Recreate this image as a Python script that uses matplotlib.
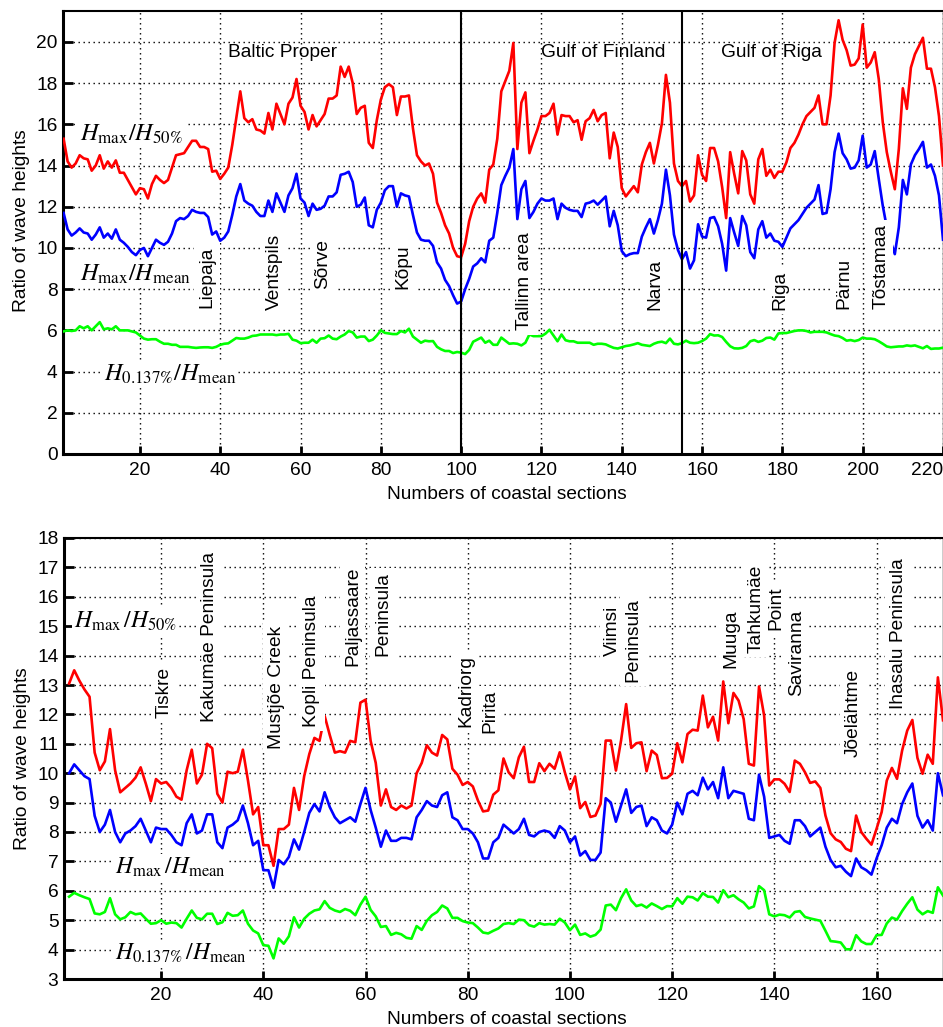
import numpy as np
import matplotlib
matplotlib.use('Agg')
import matplotlib.pyplot as plt

plt.rcParams['font.family'] = ['Liberation Sans', 'DejaVu Sans']
plt.rcParams['mathtext.fontset'] = 'stix'

# Baltic Sea, sections 1-220
baltic_h50 = [
    15.3, 14.2, 13.9, 14.1, 14.5, 14.35, 14.3, 13.75, 14.0, 14.5,
    13.85, 14.2, 13.9, 14.25, 13.65, 13.65, 13.3, 12.95, 12.6, 12.9,
    12.85, 12.4, 13.1, 13.5, 13.3, 13.15, 13.3, 13.9, 14.5, 14.55,
    14.6, 14.9, 15.2, 15.2, 14.9, 14.9, 14.8, 13.7, 13.75, 13.35,
    13.6, 13.9, 15.0, 16.3, 17.6, 16.3, 16.1, 16.25, 15.75, 15.7,
    15.55, 16.55, 15.75, 17.0, 16.5, 16.0, 17.0, 17.3, 18.2, 16.9,
    16.6, 15.75, 16.45, 15.9, 16.2, 16.5, 17.25, 17.25, 17.4, 18.8,
    18.3, 18.8, 18.0, 16.5, 16.8, 16.9, 15.1, 14.85, 16.2, 17.2,
    17.8, 17.95, 17.8, 16.45, 17.35, 17.35, 17.4, 15.8, 14.5, 14.2,
    14.0, 14.1, 13.6, 12.2, 11.7, 11.1, 10.7, 10.0, 9.6, 9.55,
    10.2, 11.3, 12.0, 12.4, 12.65, 12.2, 13.8, 14.05, 15.3, 17.6,
    18.1, 18.6, 19.95, 14.8, 17.05, 17.55, 14.6, 15.2, 15.75, 16.4,
    16.4, 16.55, 17.0, 15.5, 16.45, 16.4, 16.4, 16.1, 16.2, 15.25,
    16.15, 16.3, 16.7, 16.15, 16.45, 16.55, 14.35, 15.6, 14.9, 12.9,
    12.5, 12.75, 13.0, 12.7, 14.05, 14.65, 15.1, 14.1, 15.0, 16.05,
    18.4, 17.05, 14.1, 13.25, 13.0, 13.25, 12.25, 12.55, 14.5, 13.55,
    13.25, 14.85, 14.85, 14.2, 12.95, 11.45, 14.65, 13.6, 12.65, 14.7,
    14.25, 12.6, 12.15, 14.3, 14.8, 13.5, 13.8, 13.4, 13.7, 13.7,
    14.15, 14.85, 15.1, 15.5, 16.0, 16.4, 16.6, 16.8, 17.4, 16.0,
    16.0, 17.4, 19.95, 21.05, 20.1, 19.6, 18.85, 18.9, 19.2, 20.85,
    18.75, 19.0, 19.5, 18.2, 16.1, 14.65, 13.7, 12.85, 14.8, 17.75,
    16.75, 18.75, 19.4, 19.8, 20.2, 18.7, 18.7, 17.8, 16.4, 14.0,
]
baltic_mean = [
    11.7, 10.9, 10.6, 10.75, 10.95, 10.75, 10.7, 10.4, 10.65, 11.0,
    10.5, 10.7, 10.45, 10.9, 10.4, 10.25, 10.05, 9.8, 9.65, 9.9,
    10.0, 9.6, 10.0, 10.4, 10.25, 10.15, 10.3, 10.7, 11.3, 11.45,
    11.4, 11.55, 11.85, 11.75, 11.7, 11.7, 11.5, 10.65, 10.8, 10.35,
    10.5, 10.8, 11.6, 12.5, 13.1, 12.3, 12.15, 12.05, 11.75, 11.55,
    11.55, 12.3, 11.75, 12.65, 12.2, 11.75, 12.55, 12.9, 13.6, 12.4,
    12.2, 11.55, 12.15, 11.85, 11.9, 12.05, 12.5, 12.5, 12.7, 13.55,
    13.6, 13.7, 13.2, 12.0, 12.1, 12.45, 11.1, 11.0, 11.85, 12.2,
    12.8, 13.0, 13.0, 12.0, 12.65, 12.55, 12.5, 11.6, 10.75, 10.4,
    10.35, 10.35, 10.1, 9.3, 9.0, 8.45, 8.15, 7.7, 7.3, 7.4,
    8.0, 8.5, 9.1, 9.25, 9.5, 9.3, 10.35, 10.5, 11.7, 13.05,
    13.5, 13.9, 14.8, 11.4, 12.85, 13.25, 11.45, 11.75, 12.15, 12.4,
    12.3, 12.3, 12.4, 11.4, 12.15, 11.95, 11.85, 11.8, 11.8, 11.5,
    12.15, 12.2, 12.3, 12.1, 12.3, 12.5, 11.05, 11.8, 11.1, 9.85,
    9.6, 9.7, 9.75, 9.75, 10.55, 11.0, 11.4, 10.7, 11.35, 12.15,
    13.8, 12.55, 10.65, 9.9, 9.45, 9.8, 9.0, 9.4, 11.15, 10.55,
    10.5, 11.45, 11.5, 11.05, 10.2, 8.9, 11.45, 10.75, 10.1, 11.55,
    11.1, 9.8, 9.5, 10.9, 11.3, 10.5, 10.7, 10.35, 10.3, 10.05,
    10.5, 10.95, 11.15, 11.35, 11.65, 11.95, 12.15, 12.35, 13.05, 11.65,
    11.7, 12.85, 14.65, 15.55, 14.6, 14.3, 13.85, 13.9, 14.25, 15.45,
    13.9, 14.05, 14.7, 13.35, 12.05, 11.0, 10.3, 9.7, 11.0, 13.3,
    12.6, 14.05, 14.5, 14.8, 15.15, 13.9, 14.05, 13.5, 12.55, 10.4,
]
baltic_h0137 = [
    5.95, 6.0, 5.97, 6.0, 6.2, 6.1, 6.2, 6.0, 6.2, 6.4,
    6.05, 6.1, 6.05, 6.2, 6.0, 6.0, 6.0, 5.95, 5.9, 5.75,
    5.6, 5.55, 5.57, 5.57, 5.45, 5.35, 5.35, 5.3, 5.3, 5.2,
    5.2, 5.2, 5.17, 5.15, 5.17, 5.18, 5.18, 5.15, 5.2, 5.3,
    5.35, 5.37, 5.5, 5.63, 5.6, 5.6, 5.65, 5.73, 5.75, 5.8,
    5.8, 5.8, 5.8, 5.77, 5.8, 5.8, 5.83, 5.55, 5.5, 5.38,
    5.4, 5.4, 5.55, 5.4, 5.6, 5.62, 5.75, 5.6, 5.57, 5.7,
    5.8, 5.97, 5.9, 5.65, 5.7, 5.7, 5.48, 5.55, 5.75, 6.0,
    5.88, 5.85, 5.82, 5.82, 5.97, 5.9, 6.08, 5.7, 5.55, 5.4,
    5.5, 5.47, 5.48, 5.2, 5.08, 5.0, 5.0, 4.9, 4.95, 4.92,
    4.85, 5.05, 5.45, 5.55, 5.65, 5.4, 5.5, 5.3, 5.3, 5.65,
    5.5, 5.35, 5.37, 5.35, 5.27, 5.4, 5.8, 5.72, 5.72, 5.72,
    5.84, 6.03, 5.75, 5.47, 5.8, 5.52, 5.47, 5.47, 5.4, 5.4,
    5.4, 5.4, 5.3, 5.35, 5.35, 5.32, 5.23, 5.15, 5.12, 5.18,
    5.24, 5.27, 5.32, 5.38, 5.3, 5.27, 5.24, 5.35, 5.42, 5.45,
    5.38, 5.6, 5.35, 5.32, 5.38, 5.5, 5.4, 5.38, 5.4, 5.48,
    5.6, 5.82, 5.75, 5.76, 5.68, 5.44, 5.23, 5.13, 5.12, 5.15,
    5.24, 5.47, 5.53, 5.44, 5.5, 5.63, 5.65, 5.55, 5.85, 5.87,
    5.87, 5.92, 5.97, 6.0, 6.0, 5.97, 5.9, 5.93, 5.93, 5.93,
    5.9, 5.82, 5.75, 5.72, 5.63, 5.5, 5.53, 5.48, 5.53, 5.65,
    5.6, 5.6, 5.57, 5.47, 5.35, 5.22, 5.18, 5.2, 5.22, 5.22,
    5.27, 5.24, 5.27, 5.2, 5.13, 5.24, 5.1, 5.12, 5.12, 5.16,
]

# Gulf of Finland detail, sections 2-173
gulf_h50 = [
    13.05, 13.5, 13.15, 12.85, 12.6, 10.7, 10.1, 10.4, 11.5,
    10.1, 9.35, 9.5, 9.65, 9.85, 10.2, 9.65, 9.05, 9.8, 9.65,
    9.7, 9.5, 9.2, 9.1, 10.1, 10.8, 9.65, 9.95, 11.0, 10.85,
    9.3, 9.0, 10.05, 10.0, 10.05, 10.8, 9.75, 8.6, 8.85, 7.55,
    7.55, 6.85, 8.1, 8.1, 8.25, 9.5, 8.75, 9.9, 10.65, 11.2,
    11.1, 11.95, 11.3, 10.7, 10.75, 10.7, 11.1, 11.05, 12.4, 12.5,
    11.1, 10.35, 8.9, 9.45, 8.85, 8.75, 8.9, 8.8, 8.9, 10.0,
    10.35, 10.95, 10.7, 10.6, 11.3, 11.15, 10.15, 9.95, 9.6, 9.7,
    9.55, 9.07, 8.7, 8.73, 9.27, 9.42, 10.5, 10.03, 9.83, 10.54,
    10.9, 9.7, 9.7, 10.34, 10.07, 10.32, 10.15, 10.71, 10.03, 9.45,
    9.89, 8.81, 9.02, 8.51, 8.56, 8.96, 11.11, 11.11, 10.09, 11.11,
    12.35, 10.86, 11.02, 11.05, 10.07, 10.77, 10.62, 9.83, 9.84, 9.98,
    11.02, 10.37, 11.33, 11.48, 11.45, 12.64, 11.56, 11.92, 11.11, 13.12,
    11.7, 12.73, 12.47, 11.84, 10.32, 10.26, 12.95, 11.96, 9.58, 9.79,
    9.79, 9.64, 9.36, 10.43, 10.32, 10.03, 9.67, 9.72, 9.5, 8.56,
    7.96, 7.75, 7.66, 7.43, 7.35, 8.56, 8.0, 7.77, 7.57, 8.11,
    8.68, 9.75, 10.18, 9.81, 10.77, 11.45, 11.81, 10.52, 9.98, 10.63,
    10.32, 13.26, 11.8,
]
gulf_mean = [
    10.0, 10.3, 10.1, 9.9, 9.8, 8.55, 8.0, 8.25, 8.75,
    8.0, 7.65, 7.95, 8.05, 8.2, 8.45, 8.05, 7.65, 8.15, 8.1,
    8.1, 7.9, 7.65, 7.55, 8.3, 8.6, 7.95, 8.05, 8.6, 8.6,
    7.65, 7.45, 8.15, 8.25, 8.4, 8.9, 8.3, 7.55, 7.7, 6.7,
    6.7, 6.1, 7.05, 6.9, 7.15, 7.75, 7.4, 8.0, 8.65, 8.95,
    8.7, 9.35, 8.85, 8.5, 8.3, 8.4, 8.5, 8.35, 8.95, 9.5,
    8.75, 8.15, 7.5, 8.05, 7.7, 7.7, 7.8, 7.8, 7.75, 8.5,
    8.75, 9.05, 8.9, 8.85, 9.25, 9.35, 8.5, 8.4, 8.1, 8.1,
    7.95, 7.65, 7.1, 7.1, 7.65, 7.8, 8.25, 8.1, 7.95, 8.1,
    8.45, 7.9, 7.85, 8.0, 8.05, 8.0, 7.8, 8.2, 8.05, 7.65,
    7.85, 7.2, 7.35, 7.05, 7.05, 7.3, 9.15, 9.0, 8.35, 8.9,
    9.45, 8.65, 8.85, 8.9, 8.2, 8.5, 8.4, 8.05, 7.95, 8.25,
    9.0, 8.6, 9.3, 9.4, 9.25, 9.85, 9.45, 9.7, 9.15, 10.2,
    9.15, 9.4, 9.35, 9.3, 8.45, 8.4, 9.95, 9.2, 7.8, 7.85,
    7.9, 7.7, 7.6, 8.4, 8.4, 8.2, 7.85, 8.0, 8.15, 7.5,
    7.05, 6.8, 6.85, 6.65, 6.5, 7.1, 6.8, 6.7, 6.55, 7.1,
    7.55, 8.15, 8.45, 8.3, 8.95, 9.35, 9.65, 8.55, 8.15, 8.4,
    8.05, 10.0, 9.25,
]
gulf_h0137 = [
    5.8, 5.93, 5.85, 5.78, 5.72, 5.23, 5.2, 5.28, 5.75,
    5.2, 5.03, 5.1, 5.28, 5.2, 5.23, 5.05, 4.88, 4.9, 5.0,
    4.88, 4.92, 4.9, 4.75, 5.05, 5.33, 5.08, 5.03, 5.22, 5.22,
    4.87, 4.93, 5.25, 5.15, 5.17, 5.33, 4.88, 4.65, 4.55, 4.15,
    4.13, 3.7, 4.38, 4.2, 4.45, 5.1, 4.75, 5.05, 5.22, 5.33,
    5.37, 5.65, 5.42, 5.33, 5.28, 5.38, 5.32, 5.17, 5.53, 5.8,
    5.35, 5.13, 4.77, 4.8, 4.5, 4.57, 4.52, 4.4, 4.37, 4.8,
    4.67, 4.98, 5.17, 5.28, 5.5, 5.4, 5.08, 5.08, 4.97, 4.92,
    4.9, 4.75, 4.58, 4.55, 4.64, 4.72, 4.87, 4.9, 4.87, 5.02,
    5.0, 4.83, 4.78, 4.9, 4.85, 4.87, 4.85, 5.05, 4.92, 4.66,
    4.85, 4.5, 4.55, 4.44, 4.5, 4.68, 5.5, 5.53, 5.34, 5.75,
    6.05, 5.67, 5.48, 5.53, 5.43, 5.57, 5.48, 5.38, 5.48, 5.47,
    5.75, 5.56, 5.8, 5.78, 5.67, 5.92, 5.8, 5.79, 5.6, 6.02,
    5.78, 5.85, 5.71, 5.6, 5.4, 5.47, 6.16, 6.02, 5.2, 5.13,
    5.19, 5.17, 5.09, 5.28, 5.31, 5.11, 5.06, 5.02, 4.98, 4.64,
    4.29, 4.27, 4.24, 4.01, 4.01, 4.49, 4.28, 4.19, 4.19, 4.49,
    4.5, 4.89, 5.09, 5.02, 5.31, 5.56, 5.78, 5.36, 5.2, 5.31,
    5.25, 6.12, 5.84,
]

top_xticks = list(range(20, 221, 20))
top_yticks = list(range(0, 21, 2))
bottom_xticks = list(range(20, 161, 20))
bottom_yticks = list(range(3, 19))
basin_borders = [100, 155]

basins = [('Baltic Proper', 55.6), ('Gulf of Finland', 135.3), ('Gulf of Riga', 177.2)]
top_places = [('Liepaja', 36.7, 7.1), ('Ventspils', 53.4, 7.0), ('Sõrve', 65.6, 8.0),
              ('Kõpu', 85.5, 8.0), ('Tallinn area', 115.9, 6.0), ('Narva', 148.3, 7.0),
              ('Riga', 179.4, 7.0), ('Pärnu', 195.3, 7.05), ('Tõstamaa', 204.5, 7.05)]
bottom_places = [('Tiskre', 20.6, 11.87), ('Kakumäe Peninsula', 29.4, 11.74),
                 ('Mustjõe Creek', 42.5, 10.82), ('Kopli Peninsula', 49.5, 11.57),
                 ('Paljassaare', 57.5, 13.64), ('Peninsula', 63.4, 13.98),
                 ('Kadriorg', 79.6, 11.57), ('Pirita', 84.3, 11.36),
                 ('Viimsi', 108.4, 13.98), ('Peninsula', 112.3, 13.1),
                 ('Muuga', 131.5, 13.57), ('Tahkumäe', 136.4, 14.1),
                 ('Point', 140.2, 14.86), ('Saviranna', 144.3, 12.62),
                 ('Jõelähtme', 155.4, 10.55), ('Ihasalu Peninsula', 164.2, 12.2)]

FS = 13.8
WHITE = dict(boxstyle='square,pad=0.22', fc='white', ec='none')
WHITE_TIGHT = dict(boxstyle='square,pad=0.08', fc='white', ec='none')


def style_axes(ax, xticks, yticks, xlim, ylim, ylabel_y):
    ax.set_xlim(*xlim)
    ax.set_ylim(*ylim)
    ax.set_xticks(xticks)
    ax.set_yticks(yticks)
    ax.grid(True, color='black', linestyle=(0, (1, 2.6)), linewidth=1.0)
    ax.set_axisbelow(True)
    ax.tick_params(axis='x', direction='in', length=6, width=2, labelsize=FS, pad=6)
    ax.tick_params(axis='y', direction='in', length=7, width=2, labelsize=FS, pad=4)
    ax.spines['left'].set_linewidth(2.2)
    ax.spines['bottom'].set_linewidth(2.2)
    ax.spines['top'].set_linewidth(1.5)
    ax.spines['right'].set_linewidth(1.0)
    ax.set_xlabel('Numbers of coastal sections', fontsize=FS, x=0.504, labelpad=5)
    ax.set_ylabel('Ratio of wave heights', fontsize=FS)
    ax.yaxis.set_label_coords(-0.037, ylabel_y)


def draw_curves(ax, first, h50, mean, h0137):
    x = np.arange(first, first + len(h50))
    ax.plot(x, h50, color='#ff0000', lw=1.9, zorder=3)
    ax.plot(x, mean, color='#0000ff', lw=1.9, zorder=3)
    ax.plot(x, h0137, color='#00ff00', lw=1.9, zorder=3)


def ratio_label(ax, x, y, s, size=17.5):
    ax.text(x, y, s, fontsize=size, va='baseline', ha='left', bbox=WHITE_TIGHT, zorder=5)


def place_labels(ax, places):
    for name, x, y in places:
        ax.text(x, y, name, rotation=90, ha='center', va='bottom', fontsize=FS,
                bbox=WHITE, zorder=5)


fig = plt.figure(figsize=(9.43, 10.27), dpi=100)

ax1 = fig.add_axes([63 / 943, 1 - 454 / 1027, 880 / 943, 443 / 1027])
style_axes(ax1, top_xticks, top_yticks, (0.85, 220), (0, 21.5), 0.526)
draw_curves(ax1, 1, baltic_h50, baltic_mean, baltic_h0137)
for b in basin_borders:
    ax1.axvline(b, color='black', lw=1.5, zorder=4)
for name, x in basins:
    ax1.text(x, 19.5, name, ha='center', va='center', fontsize=FS, zorder=5)
place_labels(ax1, top_places)
ratio_label(ax1, 5.06, 15.2, r'$H_{\mathrm{max}}/H_{50\%}$')
ratio_label(ax1, 5.06, 8.4, r'$H_{\mathrm{max}}/H_{\mathrm{mean}}$')
ratio_label(ax1, 11, 3.54, r'$H_{0.137\%}/H_{\mathrm{mean}}$')
ax1.get_xticklabels()[-1].set_ha('right')

ax2 = fig.add_axes([64 / 943, 1 - 979 / 1027, 879 / 943, 441 / 1027])
style_axes(ax2, bottom_xticks, bottom_yticks, (1, 173), (3, 18), 0.5)
draw_curves(ax2, 2, gulf_h50, gulf_mean, gulf_h0137)
place_labels(ax2, bottom_places)
ratio_label(ax2, 3, 14.96, r'$H_{\mathrm{max}}\,/H_{50\%}$', size=17)
ratio_label(ax2, 11, 6.57, r'$H_{\mathrm{max}}\,/H_{\mathrm{mean}}$', size=17)
ratio_label(ax2, 11, 3.65, r'$H_{0.137\%}\,/H_{\mathrm{mean}}$', size=17)

fig.savefig('out.png', dpi=100)
